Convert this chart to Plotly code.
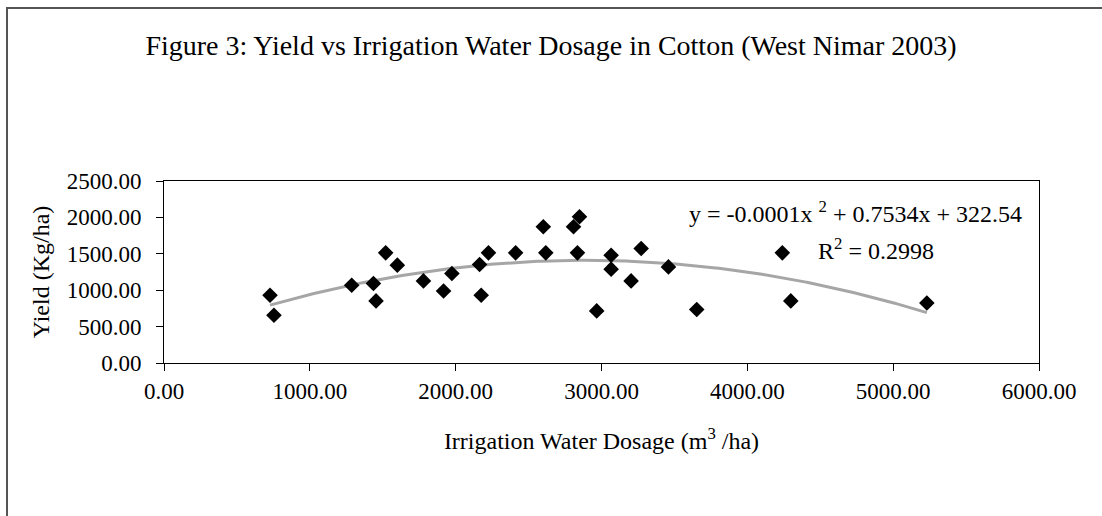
import numpy as np
import plotly.graph_objects as go

# Data
water_dosage = [727, 754, 1287, 1436, 1454, 1520, 1600, 1779, 1917, 1974,
                2164, 2175, 2225, 2411, 2601, 2618, 2808, 2849, 2835, 2967,
                3066, 3066, 3203, 3272, 3459, 3653, 4240, 4298, 5231]
yield_kg = [931, 656, 1069, 1092, 853, 1513, 1344, 1128, 990, 1230,
            1353, 931, 1513, 1513, 1871, 1513, 1871, 2008, 1513, 716,
            1481, 1289, 1128, 1573, 1320, 734, 1513, 853, 825]
x_ticks = [0, 1000, 2000, 3000, 4000, 5000, 6000]
y_ticks = [0, 500, 1000, 1500, 2000, 2500]

title_text = "Figure 3: Yield vs Irrigation Water Dosage in Cotton (West Nimar 2003)"
eq_text = "y = -0.0001x <sup>2</sup> + 0.7534x + 322.54"
r2_text = "R<sup>2</sup> = 0.2998"

# Polynomial (order 2) trendline fitted to the data
coef = np.polyfit(water_dosage, yield_kg, 2)
tx = np.linspace(min(water_dosage), max(water_dosage), 200)
ty = np.polyval(coef, tx)

FONT = "Liberation Serif, Times New Roman, serif"

fig = go.Figure()
fig.add_trace(go.Scatter(
    x=tx, y=ty, mode="lines",
    line=dict(color="#a6a6a6", width=3),
    showlegend=False))
fig.add_trace(go.Scatter(
    x=water_dosage, y=yield_kg, mode="markers",
    marker=dict(symbol="diamond", size=12, color="black"),
    showlegend=False, cliponaxis=False))

W, H = 1102, 516
L, R, T, B = 164, 63, 181, 153
pw, ph = W - L - R, H - T - B

def px_to_paper_x(px):
    return (px - L) / pw

def px_to_paper_y(py):
    return (H - B - py) / ph

fig.update_layout(
    width=W, height=H,
    margin=dict(l=L, r=R, t=T, b=B, autoexpand=False),
    paper_bgcolor="white", plot_bgcolor="white",
    font=dict(family=FONT, color="black", size=23),
    title=dict(text=title_text, x=0.5, xref="container", xanchor="center",
               y=1 - 45 / H, yref="container", yanchor="middle",
               font=dict(family=FONT, size=28, color="black")),
    xaxis=dict(range=[0, 6000], tickvals=x_ticks, tickformat=".2f",
               showgrid=False, zeroline=False, showline=True, linecolor="black",
               linewidth=1, mirror=True, ticks="outside", ticklen=7,
               tickcolor="black", tickfont=dict(size=23),
               title=dict(text="Irrigation Water Dosage (m<sup>3</sup> /ha)",
                          font=dict(size=24), standoff=29)),
    yaxis=dict(range=[0, 2500], tickvals=y_ticks, tickformat=".2f",
               showgrid=False, zeroline=False, showline=True, linecolor="black",
               linewidth=1, mirror=True, ticks="outside", ticklen=7,
               tickcolor="black", tickfont=dict(size=23),
               ticklabelstandoff=10,
               title=dict(text="Yield (Kg/ha)", font=dict(size=24), standoff=10)),
)

fig.add_annotation(text=eq_text, xref="paper", yref="paper",
                   x=px_to_paper_x(855), y=px_to_paper_y(212),
                   xanchor="center", yanchor="middle", showarrow=False,
                   font=dict(family=FONT, size=24, color="black"))
fig.add_annotation(text=r2_text, xref="paper", yref="paper",
                   x=px_to_paper_x(876), y=px_to_paper_y(249),
                   xanchor="center", yanchor="middle", showarrow=False,
                   font=dict(family=FONT, size=24, color="black"))

# outer chart frame (left and top edges visible)
fig.add_shape(type="line", xref="paper", yref="paper",
              x0=px_to_paper_x(7), x1=px_to_paper_x(7),
              y0=px_to_paper_y(8), y1=px_to_paper_y(520),
              line=dict(color="#555555", width=2))
fig.add_shape(type="line", xref="paper", yref="paper",
              x0=px_to_paper_x(6), x1=px_to_paper_x(1110),
              y0=px_to_paper_y(8), y1=px_to_paper_y(8),
              line=dict(color="#555555", width=2))

fig.write_html(
    "out.html",
    config={"displayModeBar": False},
    post_script="document.body.style.margin='0';document.body.style.overflow='hidden';",
)
